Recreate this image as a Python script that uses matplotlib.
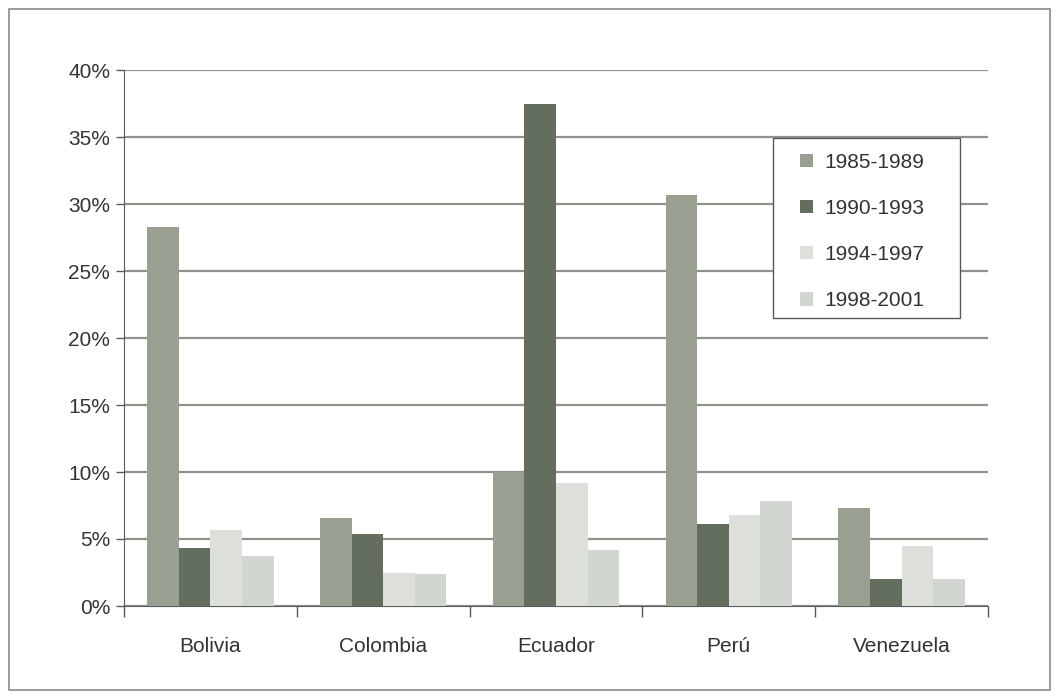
import numpy as np
import matplotlib.pyplot as plt
from matplotlib.ticker import FuncFormatter
from matplotlib.patches import Rectangle

countries = ["Bolivia", "Colombia", "Ecuador", "Perú", "Venezuela"]
periods = ["1985-1989", "1990-1993", "1994-1997", "1998-2001"]
v_1985 = [28.3, 6.6, 10.0, 30.7, 7.3]
v_1990 = [4.3, 5.4, 37.5, 6.1, 2.0]
v_1994 = [5.7, 2.5, 9.2, 6.8, 4.5]
v_1998 = [3.7, 2.4, 4.2, 7.8, 2.0]
colors = ["#9aa091", "#646e5e", "#dddfdb", "#d2d6d1"]

plt.rcParams["font.family"] = ["Liberation Sans", "DejaVu Sans"]
plt.rcParams["font.size"] = 15

W, H = 1060, 700
fig = plt.figure(figsize=(W / 100, H / 100), dpi=100)
ax = fig.add_axes([124 / W, 1 - 606 / H, 864 / W, 536 / H])

# outer frame
fig.patches.append(Rectangle((9 / W, 1 - 690 / H), 1041 / W, 681 / H,
                             transform=fig.transFigure, fill=False,
                             edgecolor="#8a8a8a", linewidth=1.2))

x = np.arange(len(countries))
w = 0.183
series = [v_1985, v_1990, v_1994, v_1998]
for i, vals in enumerate(series):
    ax.bar(x + (i - 1.5) * w, vals, w, color=colors[i], label=periods[i], zorder=3)

ax.set_xlim(-0.5, 4.5)
ax.set_ylim(0, 40)
ax.set_yticks(np.arange(0, 41, 5))
ax.yaxis.set_major_formatter(FuncFormatter(lambda v, p: f"{v:.0f}%"))
ax.grid(True, axis="y", color="#8e928a", linewidth=1.6, zorder=0)

ax.set_xticks(np.arange(-0.5, 5, 1))
ax.set_xticklabels([])
ax.set_xticks(x, minor=True)
ax.set_xticklabels(countries, minor=True)
ax.tick_params(axis="x", which="major", length=8, color="#5a5a5a", width=1)
ax.tick_params(axis="x", which="minor", length=0, pad=22, labelcolor="#333333")
ax.tick_params(axis="y", length=6, color="#5a5a5a", width=1, labelcolor="#333333", pad=4)

for s in ["top", "right"]:
    ax.spines[s].set_visible(False)
ax.spines["left"].set_color("#5a5a5a")
ax.spines["bottom"].set_color("#5a5a5a")

# legend box drawn separately so its padding matches
fig.patches.append(Rectangle((773 / W, 1 - 318 / H), 187 / W, 180 / H,
                             transform=fig.transFigure, facecolor="white",
                             edgecolor="#5a5a5a", linewidth=1.0, zorder=4))
leg = fig.legend(loc="upper left", bbox_to_anchor=(800 / W, 1 - 153 / H),
                 frameon=False, labelspacing=1.3, handlelength=0.6, handleheight=0.6,
                 borderpad=0, borderaxespad=0, handletextpad=0.55)
leg.set_zorder(5)
for t in leg.get_texts():
    t.set_color("#333333")

fig.savefig("out.png", dpi=100)
